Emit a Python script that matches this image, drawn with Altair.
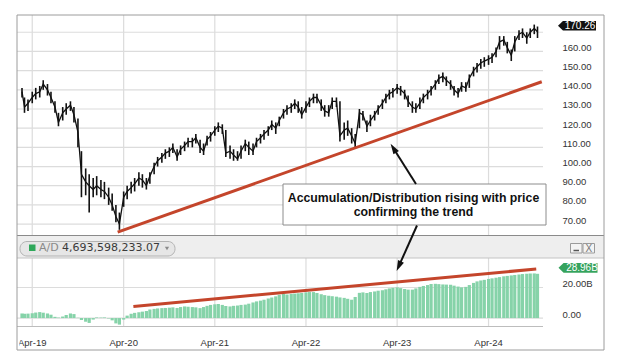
import altair as alt
import pandas as pd

# ---------------- data ----------------
dates = ["2019-02-19"]
for yr in range(2019, 2025):
    for mo in range(1, 13):
        for d in (1, 15):
            s = f"{yr}-{mo:02d}-{d:02d}"
            if "2019-03-01" <= s <= "2024-10-01":
                dates.append(s)
dates.append("2024-10-14")

close = [
    139, 131, 133, 136, 138, 139, 143, 140, 136, 131, 123, 128, 130, 132, 127, 118, 96, 92, 90, 88, 90,
    88, 87, 84, 80, 74, 70, 84, 87, 89, 91, 94, 93, 90, 95, 100, 103, 105, 107, 108, 110, 105, 109, 111, 113,
    113, 115, 110, 108, 114, 116, 119, 121, 120, 107, 108, 106, 104, 108, 112, 110, 108, 113, 115, 117, 119, 122, 120, 124,
    128, 130, 131, 133, 131, 127, 131, 134, 136, 136, 132, 129, 128, 134, 134, 116, 119, 120, 116, 112, 128, 127, 121, 124,
    127, 130, 133, 136, 138, 139, 141, 140, 138, 134, 131, 130, 133, 136, 138, 140, 143, 146, 147, 145, 143, 140, 138, 142,
    141, 146, 150, 152, 154, 155, 156, 157, 160, 165, 166, 162, 158, 165, 169, 170, 167, 170, 172, 170.26,
]
low = [
    136, 128, 129, 133, 135, 136, 140, 137, 133, 128, 121, 124, 127, 129, 123, 110, 84, 85, 76, 84, 85,
    84, 83, 80, 77, 71, 67, 79, 83, 86, 87, 90, 89, 88, 91, 96, 100, 102, 104, 105, 107, 103, 106, 108, 110,
    110, 112, 107, 106, 111, 113, 116, 118, 117, 105, 104, 103, 103, 104, 108, 106, 106, 110, 112, 114, 116, 119, 117, 121,
    125, 127, 128, 130, 128, 125, 128, 131, 133, 133, 129, 126, 126, 130, 131, 113, 114, 116, 112, 110, 120, 124, 118, 121,
    124, 127, 130, 133, 135, 136, 138, 137, 135, 131, 128, 128, 130, 133, 135, 137, 140, 143, 144, 142, 140, 137, 136, 139,
    139, 141, 147, 149, 151, 152, 153, 154, 157, 161, 163, 159, 155, 160, 166, 167, 164, 167, 169, 167,
]
high = [
    141, 136, 135, 139, 141, 142, 145, 143, 139, 134, 128, 131, 133, 134, 131, 125, 108, 99, 96, 94, 95,
    93, 92, 89, 86, 80, 76, 87, 90, 92, 94, 97, 96, 94, 97, 102, 105, 107, 109, 110, 112, 109, 111, 113, 115,
    115, 117, 114, 112, 116, 118, 121, 123, 122, 119, 111, 109, 108, 111, 114, 113, 112, 115, 117, 119, 121, 124, 123, 126,
    130, 132, 133, 135, 134, 131, 134, 136, 138, 138, 135, 132, 132, 136, 136, 134, 123, 124, 120, 117, 130, 129, 124, 127,
    129, 132, 135, 138, 140, 141, 143, 142, 140, 137, 134, 133, 136, 138, 140, 142, 145, 148, 149, 147, 145, 142, 141, 144,
    144, 148, 152, 154, 156, 157, 158, 159, 162, 168, 168, 165, 161, 168, 171, 172, 170, 172, 174, 173,
]
ad_billions = [
    3.0, 2.8, 2.9, 3.2, 3.6, 3.9, 3.5, 3.0, 2.2, 0.8, 0.3, 1.0, 2.0, 3.0, 2.6, 0.2, -1.2, -2.4, -3.2, -1.0, 0.4,
    0.3, 0.4, -0.3, -1.5, -3.5, -4.3, -1.0, 1.6, 2.8, 3.4, 3.8, 4.2, 4.6, 5.6, 6.0, 6.3, 6.5, 6.6, 6.8, 7.0, 6.6, 7.2, 7.6, 7.4,
    7.2, 7.0, 6.5, 7.2, 8.0, 8.6, 9.0, 9.2, 8.6, 7.9, 7.6, 8.0, 8.2, 8.6, 8.8, 9.4, 10.2, 10.9, 11.4, 12.0, 12.8, 13.4, 14.2, 15.2,
    15.8, 15.4, 15.8, 16.0, 16.2, 16.4, 16.8, 17.0, 17.0, 16.4, 15.6, 15.0, 14.6, 14.3, 14.0, 13.5, 13.2, 12.6, 12.0, 13.8, 16.5, 16.8, 16.4, 17.0,
    17.4, 17.9, 18.2, 18.8, 19.4, 19.8, 20.1, 19.6, 19.0, 18.6, 18.6, 19.4, 20.4, 21.0, 21.6, 22.3, 22.4, 22.2, 22.0, 21.9, 21.8, 21.2, 20.6, 20.1,
    20.4, 21.6, 23.0, 24.0, 24.6, 25.0, 25.6, 26.0, 26.4, 26.8, 27.3, 27.6, 27.9, 28.2, 28.5, 28.8, 29.0, 29.1, 29.2, 28.96,
]
assert len(dates) == len(close) == len(low) == len(high) == len(ad_billions)

price_trend_dates = ["2020-03-08", "2024-10-31"]
price_trend_values = [65.8, 144.2]
ad_trend_dates = ["2020-05-10", "2024-10-09"]
ad_trend_values = [7.6, 32.1]

year_ticks = ["2019-04-01", "2020-04-01", "2021-04-01", "2022-04-01", "2023-04-01", "2024-04-01"]
year_labels = ["Apr-19", "Apr-20", "Apr-21", "Apr-22", "Apr-23", "Apr-24"]
price_grid = [70, 80, 90, 100, 110, 120, 130, 140, 150, 160, 170]
price_labels = [70, 80, 90, 100, 110, 120, 130, 140, 150, 160]
ad_grid = [0, 20]

last_price = 170.26
last_price_label = "170.26"
last_ad = 28.96
last_ad_label = "28.96B"
header_name = "A/D"
header_value = "4,693,598,233.07"
note_line1 = "Accumulation/Distribution rising with price"
note_line2 = "confirming the trend"

# ---------------- layout ----------------
W, H = 526, 311          # plot area (both panels), relative to frame's top-left
FW, FH = 587, 335        # outer frame
PRICE_BOTTOM = 220
AD_TOP, AD_BOTTOM = 243, 311

FONT = "Arial"
x_scale = alt.Scale(domain=[alt.DateTime(year=2019, month=2, date=19),
                            alt.DateTime(year=2024, month=10, date=16)], nice=False)
price_scale = alt.Scale(domain=[64.3, 179.0], range=[PRICE_BOTTOM, 0], nice=False, zero=False)
ad_scale = alt.Scale(domain=[-5.2, 39.3], range=[AD_BOTTOM, AD_TOP], nice=False, zero=False)

df = pd.DataFrame({"date": dates, "close": close, "low": low, "high": high, "ad": ad_billions})
one = pd.DataFrame({"k": [0]})
X = alt.X("date:T", scale=x_scale, axis=None)
ticks_df = pd.DataFrame({"tick": year_ticks, "label": year_labels})

layers = []

# vertical grid
layers.append(
    alt.Chart(ticks_df).mark_rule(color="#dcdcdc", strokeWidth=1.2).encode(
        x=alt.X("tick:T", scale=x_scale, axis=None),
        y=alt.value(0), y2=alt.value(AD_BOTTOM))
)
# x tick labels
layers.append(
    alt.Chart(ticks_df).mark_text(font=FONT, fontSize=9.5, color="#333", baseline="middle", align="center").encode(
        x=alt.X("tick:T", scale=x_scale, axis=None),
        y=alt.value(328), text="label:N")
)
# price horizontal grid + labels
layers.append(
    alt.Chart(pd.DataFrame({"v": price_grid})).mark_rule(color="#dcdcdc", strokeWidth=1.2).encode(
        y=alt.Y("v:Q", scale=price_scale, axis=alt.Axis(
            orient="right", values=price_labels, format=".2f", grid=False, domain=False, ticks=False,
            labelPadding=19, labelFont=FONT, labelFontSize=9.5, labelColor="#333",
            labelOffset=-4, title=None, labelOverlap=False, zindex=0)),
        x=alt.value(0), x2=alt.value(W))
)
# A/D horizontal grid + labels
layers.append(
    alt.Chart(pd.DataFrame({"v": ad_grid})).mark_rule(color="#dcdcdc", strokeWidth=1.2).encode(
        y=alt.Y("v:Q", scale=ad_scale, axis=alt.Axis(
            orient="right", values=ad_grid, grid=False, domain=False, ticks=False,
            labelExpr="datum.value == 0 ? '0.00' : format(datum.value, '.2f') + 'B'",
            labelPadding=19, labelFont=FONT, labelFontSize=9.5, labelColor="#333",
            labelOffset=-4, title=None, labelOverlap=False, zindex=0)),
        x=alt.value(0), x2=alt.value(W))
)
# price bars and close line
layers.append(alt.Chart(df).mark_rule(color="#111", strokeWidth=1.6).encode(
    x=X, y=alt.Y("low:Q", scale=price_scale, axis=None), y2="high:Q"))
layers.append(alt.Chart(df).mark_line(color="#111", strokeWidth=1.3).encode(
    x=X, y=alt.Y("close:Q", scale=price_scale, axis=None)))
# price trendline
layers.append(alt.Chart(pd.DataFrame({"date": price_trend_dates, "v": price_trend_values}))
              .mark_line(color="#c4452b", strokeWidth=3).encode(
    x=X, y=alt.Y("v:Q", scale=price_scale, axis=None)))
# A/D histogram
layers.append(alt.Chart(df).mark_bar(color="#86d3a9", size=3.2).encode(
    x=X, y=alt.Y("ad:Q", scale=ad_scale, axis=None)))
# A/D trendline
layers.append(alt.Chart(pd.DataFrame({"date": ad_trend_dates, "v": ad_trend_values}))
              .mark_line(color="#c4452b", strokeWidth=3).encode(
    x=X, y=alt.Y("v:Q", scale=ad_scale, axis=None)))

# panel chrome
layers.append(alt.Chart(one).mark_rect(fill="#eeeeee").encode(
    x=alt.value(0), x2=alt.value(FW), y=alt.value(PRICE_BOTTOM + 1), y2=alt.value(AD_TOP)))
layers.append(alt.Chart(one).mark_rule(color="#8a8a8a", strokeWidth=1).encode(
    x=alt.value(0), x2=alt.value(FW), y=alt.value(PRICE_BOTTOM + 0.5)))
layers.append(alt.Chart(one).mark_rule(color="#c4c4c4", strokeWidth=1).encode(
    x=alt.value(0), x2=alt.value(FW), y=alt.value(AD_TOP)))
layers.append(alt.Chart(one).mark_rule(color="#bdbdbd", strokeWidth=1).encode(
    x=alt.value(0), x2=alt.value(W), y=alt.value(AD_BOTTOM + 0.5)))
# pill
layers.append(alt.Chart(one).mark_rect(fill="#e6e6e6", stroke="#b3b3b3", strokeWidth=1, cornerRadius=7).encode(
    x=alt.value(3), x2=alt.value(158), y=alt.value(226.5), y2=alt.value(241)))
layers.append(alt.Chart(one).mark_rect(fill="#2fa85a").encode(
    x=alt.value(12), x2=alt.value(18.5), y=alt.value(229.5), y2=alt.value(236)))
layers.append(alt.Chart(one).mark_text(text=header_name, align="left", baseline="middle",
                                       font="DejaVu Sans", fontSize=11, color="#8a8a8a").encode(
    x=alt.value(22), y=alt.value(233)))
layers.append(alt.Chart(one).mark_text(text=header_value, align="left", baseline="middle",
                                       font="DejaVu Sans", fontSize=11, color="#3a3a3a").encode(
    x=alt.value(45), y=alt.value(233)))
layers.append(alt.Chart(one).mark_point(shape="triangle-down", filled=True, size=18, color="#8a8a8a", opacity=1).encode(
    x=alt.value(150), y=alt.value(233.5)))
# window buttons
layers.append(alt.Chart(pd.DataFrame({"a": [553.5, 566], "b": [565, 577.5]})).mark_rect(
    fill="#f3f3f3", stroke="#9a9a9a", strokeWidth=1).encode(
    x=alt.X("a:Q", scale=None), x2="b:Q", y=alt.value(228.5), y2=alt.value(238)))
layers.append(alt.Chart(one).mark_rule(color="#555", strokeWidth=1.5).encode(
    x=alt.value(556.5), x2=alt.value(562), y=alt.value(235.5)))
layers.append(alt.Chart(one).mark_text(text="X", align="center", baseline="middle", font=FONT,
                                       fontSize=10, color="#777").encode(
    x=alt.value(571.8), y=alt.value(233.5)))

# annotation box and arrows
layers.append(alt.Chart(one).mark_rect(fill="white", stroke="#8c8c8c", strokeWidth=1).encode(
    x=alt.value(266), x2=alt.value(529), y=alt.value(169), y2=alt.value(210)))
layers.append(alt.Chart(one).mark_text(text=note_line1, align="center", baseline="middle", font=FONT,
                                       fontSize=12.3, fontWeight="bold", color="#111").encode(
    x=alt.value(396.5), y=alt.value(182.5)))
layers.append(alt.Chart(one).mark_text(text=note_line2, align="center", baseline="middle", font=FONT,
                                       fontSize=12.3, fontWeight="bold", color="#111").encode(
    x=alt.value(396.5), y=alt.value(196.8)))
arrow_head = "M 0 -1 L 0.62 1 L -0.62 1 Z"
layers.append(alt.Chart(one).mark_rule(color="#111", strokeWidth=2).encode(
    x=alt.value(399), y=alt.value(169), x2=alt.value(376.4), y2=alt.value(133.2)))
layers.append(alt.Chart(one).mark_point(shape=arrow_head, filled=True, size=110, angle=327.9,
                                        color="#111", opacity=1).encode(
    x=alt.value(376.4), y=alt.value(133.2)))
layers.append(alt.Chart(one).mark_rule(color="#111", strokeWidth=2).encode(
    x=alt.value(400), y=alt.value(210.5), x2=alt.value(381.8), y2=alt.value(251.2)))
layers.append(alt.Chart(one).mark_point(shape=arrow_head, filled=True, size=110, angle=204.4,
                                        color="#111", opacity=1).encode(
    x=alt.value(381.8), y=alt.value(251.2)))

# last-value tags
tag_shape = "M -1 0 L -0.74 -0.25 L 1 -0.25 L 1 0.25 L -0.74 0.25 Z"
layers.append(alt.Chart(pd.DataFrame({"v": [last_price]})).mark_point(
    shape=tag_shape, filled=True, size=1444, color="#111", opacity=1, yOffset=-6).encode(
    x=alt.value(560), y=alt.Y("v:Q", scale=price_scale, axis=None)))
layers.append(alt.Chart(pd.DataFrame({"v": [last_price], "t": [last_price_label]})).mark_text(
    color="white", font=FONT, fontSize=10, align="center", baseline="middle", yOffset=-6).encode(
    x=alt.value(563), y=alt.Y("v:Q", scale=price_scale, axis=None), text="t:N"))
layers.append(alt.Chart(pd.DataFrame({"v": [last_ad]})).mark_point(
    shape=tag_shape, filled=True, size=1521, color="#35a35d", opacity=1, yOffset=-6).encode(
    x=alt.value(561), y=alt.Y("v:Q", scale=ad_scale, axis=None)))
layers.append(alt.Chart(pd.DataFrame({"v": [last_ad], "t": [last_ad_label]})).mark_text(
    color="white", font=FONT, fontSize=10, align="center", baseline="middle", yOffset=-6).encode(
    x=alt.value(565), y=alt.Y("v:Q", scale=ad_scale, axis=None), text="t:N"))

# clip first x label at frame edge, then frame
layers.append(alt.Chart(one).mark_rect(fill="white").encode(
    x=alt.value(-12), x2=alt.value(2.4), y=alt.value(AD_BOTTOM + 1), y2=alt.value(FH + 2)))
layers.append(alt.Chart(one).mark_rect(fill="white", fillOpacity=0, stroke="#9c9c9c", strokeWidth=1).encode(
    x=alt.value(0), x2=alt.value(FW), y=alt.value(0), y2=alt.value(FH)))

chart = alt.layer(*layers).resolve_scale(y="independent").properties(
    width=W, height=H,
    autosize=alt.AutoSizeParams(type="none"),
    padding={"left": 9, "top": 7, "right": 70, "bottom": 32},
).configure_view(stroke=None)

chart.save("out.html", embed_options={"renderer": "svg", "actions": False})
